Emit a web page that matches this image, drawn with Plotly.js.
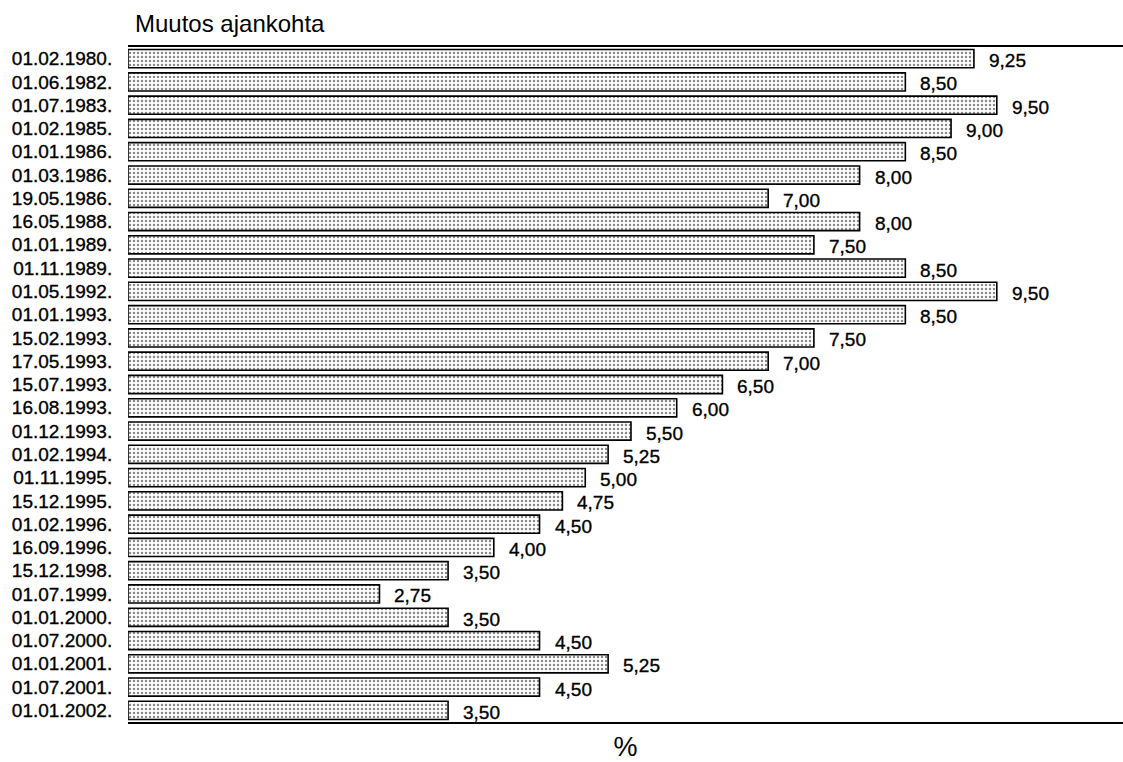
<!DOCTYPE html>
<html>
<head>
<meta charset="utf-8">
<script src="https://cdn.plot.ly/plotly-3.0.1.min.js"></script>
<style>
html,body{margin:0;padding:0;background:#fff;}
#chart{width:1123px;height:762px;}
#chart .ytick text, #chart .annotation-text { stroke:#000; stroke-width:0.35px; }
</style>
</head>
<body>
<div id="chart"></div>
<script>
const dates = ["01.02.1980.","01.06.1982.","01.07.1983.","01.02.1985.","01.01.1986.","01.03.1986.","19.05.1986.","16.05.1988.","01.01.1989.","01.11.1989.","01.05.1992.","01.01.1993.","15.02.1993.","17.05.1993.","15.07.1993.","16.08.1993.","01.12.1993.","01.02.1994.","01.11.1995.","15.12.1995.","01.02.1996.","16.09.1996.","15.12.1998.","01.07.1999.","01.01.2000.","01.07.2000.","01.01.2001.","01.07.2001.","01.01.2002."];
const rates = [9.25,8.50,9.50,9.00,8.50,8.00,7.00,8.00,7.50,8.50,9.50,8.50,7.50,7.00,6.50,6.00,5.50,5.25,5.00,4.75,4.50,4.00,3.50,2.75,3.50,4.50,5.25,4.50,3.50];
const rateLabels = rates.map(v => v.toFixed(2).replace('.', ','));
const titleText = "Muutos ajankohta";
const axisTitle = "%";

const regular = "Liberation Sans, Arial, Helvetica, sans-serif";

const trace = {
  type: 'bar',
  orientation: 'h',
  x: rates,
  y: dates,
  marker: {
    color: '#ffffff',
    line: {color: '#000', width: 1.6},
    pattern: {shape: '.', fgcolor: '#8a8a8a', bgcolor: '#fff', size: 4, solidity: 0.3, fillmode: 'replace'}
  },
  hoverinfo: 'skip'
};

const annotations = rates.map((v, i) => ({
  x: v, y: dates[i], xref: 'x', yref: 'y',
  text: rateLabels[i], showarrow: false,
  xanchor: 'left', yanchor: 'middle', xshift: 13, yshift: -2,
  font: {family: regular, size: 19, color: '#000'}
}));

const layout = {
  width: 1123, height: 762,
  margin: {l: 128, r: 0, t: 47, b: 40},
  paper_bgcolor: '#fff', plot_bgcolor: '#fff',
  showlegend: false,
  bargap: 0.22,
  separators: ',.',
  title: {
    text: titleText, x: 135/1123, xanchor: 'left', xref: 'container',
    y: 1 - 24/762, yanchor: 'middle', yref: 'container',
    font: {family: regular, size: 24, color: '#000'}
  },
  xaxis: {
    range: [0, 10.88], showgrid: false, zeroline: false,
    showticklabels: false, ticks: '',
    showline: true, linecolor: '#000', linewidth: 2, mirror: true,
    title: {text: axisTitle, font: {family: regular, size: 27, color: '#000'}, standoff: 16}
  },
  yaxis: {
    type: 'category', range: [28.5, -0.5],
    tickmode: 'array', tickvals: dates, ticktext: dates,
    showgrid: false, zeroline: false, showline: false,
    ticks: 'outside', ticklen: 11, tickcolor: 'rgba(0,0,0,0)',
    tickfont: {family: regular, size: 19, color: '#000'}
  },
  annotations: annotations
};

Plotly.newPlot('chart', [trace], layout, {displayModeBar: false, staticPlot: true});
</script>
</body>
</html>
